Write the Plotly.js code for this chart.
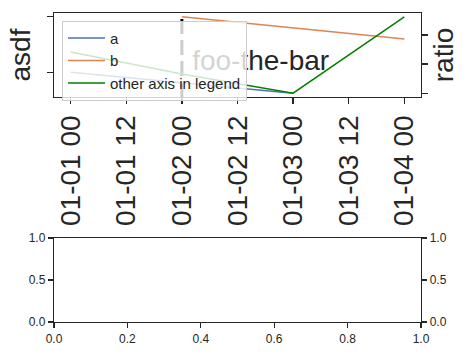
<!DOCTYPE html>
<html>
<head>
<meta charset="utf-8">
<script src="https://cdn.plot.ly/plotly-3.0.1.min.js"></script>
<style>html,body{margin:0;padding:0;background:#fff;}#chart{width:474px;height:355px;}</style>
</head>
<body>
<div id="chart"></div>
<script>
// ---- data ----
const aDates = ['2020-01-01 00:00', '2020-01-02 00:00', '2020-01-03 00:00'];
const aValues = [0.0, -0.19, -0.38];
const bDates = ['2020-01-02 00:00', '2020-01-03 00:00', '2020-01-04 00:00'];
const bValues = [1.0, 0.8, 0.6];
const otherDates = ['2020-01-01 00:00', '2020-01-02 00:00', '2020-01-03 00:00', '2020-01-04 00:00'];
const otherValues = [1.41, 0.66, 0.0, 2.62];
const seriesNames = ['a', 'b', 'other axis in legend'];
const markerDate = '2020-01-02 00:00';
const noteText = ['foo-the-bar'];
const noteDate = ['2020-01-02 17:00'];
const noteValue = [0.17];
const leftTicks = [0, 1];
const rightTicks = [0, 1, 2];
const bottomXTicks = [0, 0.2, 0.4, 0.6, 0.8, 1.0];
const bottomXLabels = ['0.0', '0.2', '0.4', '0.6', '0.8', '1.0'];
const bottomYTicks = [0, 0.5, 1.0];
const bottomYLabels = ['0.0', '0.5', '1.0'];

const ink = '#262626';
const font = 'Liberation Sans, Arial, sans-serif';

const traces = [
  {x: aDates, y: aValues, name: seriesNames[0], mode: 'lines', line: {color: '#4c72b0', width: 1.5}, xaxis: 'x', yaxis: 'y', hoverinfo: 'skip'},
  {x: bDates, y: bValues, name: seriesNames[1], mode: 'lines', line: {color: '#dd8452', width: 1.5}, xaxis: 'x', yaxis: 'y', hoverinfo: 'skip'},
  {x: noteDate, y: noteValue, text: noteText, mode: 'text', textposition: 'middle center', textfont: {size: 28, color: ink, family: font}, showlegend: false, xaxis: 'x', yaxis: 'y', hoverinfo: 'skip', cliponaxis: false},
  {x: otherDates, y: otherValues, name: seriesNames[2], mode: 'lines', line: {color: '#008000', width: 1.5}, xaxis: 'x', yaxis: 'y2', hoverinfo: 'skip'},
  {x: [], y: [], xaxis: 'x3', yaxis: 'y3', showlegend: false, mode: 'lines'},
  {x: [], y: [], xaxis: 'x3', yaxis: 'y4', showlegend: false, mode: 'lines'}
];

const axBase = {showline: true, linecolor: ink, linewidth: 1.25, ticks: 'outside', ticklen: 6, tickwidth: 1.25, tickcolor: ink, showgrid: false, zeroline: false, tickfont: {family: font, color: ink}};

const layout = {
  width: 474, height: 355,
  margin: {l: 54, r: 53, t: 13, b: 33, pad: 0},
  paper_bgcolor: '#fff', plot_bgcolor: '#fff',
  font: {family: font, color: ink},
  showlegend: true,
  legend: {x: 0.0218, y: 0.975, xanchor: 'left', yanchor: 'top', itemwidth: 37, bgcolor: 'rgba(255,255,255,0.8)', bordercolor: '#cccccc', borderwidth: 1, font: {size: 15, color: ink, family: font}},
  xaxis: Object.assign({}, axBase, {domain: [0, 1], anchor: 'y', type: 'date', range: ['2019-12-31 20:24', '2020-01-04 03:36'], tick0: '2020-01-01 00:00', dtick: 12 * 3600 * 1000, tickformat: '%m-%d %H', tickangle: -90, mirror: true, tickfont: {size: 28, family: font, color: ink}}),
  yaxis: Object.assign({}, axBase, {domain: [0.7282, 1], anchor: 'x', range: [-0.449, 1.069], tickmode: 'array', tickvals: leftTicks, showticklabels: false, title: {text: 'asdf', font: {size: 28, family: font, color: ink}, standoff: 8}}),
  yaxis2: Object.assign({}, axBase, {overlaying: 'y', side: 'right', anchor: 'x', range: [-0.131, 2.751], tickmode: 'array', tickvals: rightTicks, showticklabels: false, title: {text: 'ratio', font: {size: 28, family: font, color: ink}, standoff: 6}}),
  xaxis3: Object.assign({}, axBase, {domain: [0, 1], anchor: 'y3', range: [0, 1], tickmode: 'array', tickvals: bottomXTicks, ticktext: bottomXLabels, ticklen: 5, mirror: true, tickfont: {size: 12, family: font, color: ink}}),
  yaxis3: Object.assign({}, axBase, {domain: [0, 0.2718], anchor: 'x3', range: [0, 1], tickmode: 'array', tickvals: bottomYTicks, ticktext: bottomYLabels, ticklen: 5, tickfont: {size: 12, family: font, color: ink}}),
  yaxis4: Object.assign({}, axBase, {overlaying: 'y3', side: 'right', anchor: 'x3', range: [0, 1], tickmode: 'array', tickvals: bottomYTicks, ticktext: bottomYLabels, ticklen: 5, tickfont: {size: 12, family: font, color: ink}}),
  shapes: [
    {type: 'line', xref: 'x', yref: 'y domain', x0: markerDate, x1: markerDate, y0: 0, y1: 1, layer: 'below', line: {color: '#000000', width: 3, dash: '15px,6px'}}
  ]
};

Plotly.newPlot('chart', traces, layout, {staticPlot: true, displayModeBar: false});
</script>
</body>
</html>
